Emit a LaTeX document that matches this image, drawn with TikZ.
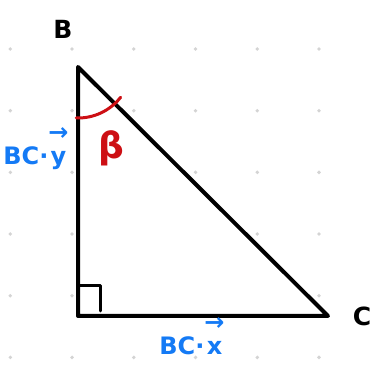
\documentclass[tikz,border=0pt]{standalone}
\usepackage{fontspec}
\usepackage{amsmath}
\setmainfont{DejaVu Sans}
\definecolor{myblue}{RGB}{20,122,245}
\definecolor{myred}{RGB}{205,15,20}
\definecolor{dotcol}{RGB}{212,212,212}
\newcommand{\myvec}[1]{\ensuremath{\mathop{\text{#1}}\limits^{\raisebox{6pt}{\hbox{\bfseries\fontsize{24}{26}\selectfont →}}}}}
\begin{document}
\begin{tikzpicture}[x=1pt,y=-1pt,
  tri/.style={line width=4pt,line join=round,line cap=round},
  lbl/.style={inner sep=0pt,font=\bfseries\fontsize{25}{27}\selectfont},
  bluelbl/.style={inner sep=0pt,text=myblue,font=\bfseries\fontsize{24}{26}\selectfont},
  redlbl/.style={inner sep=0pt,text=myred,font=\bfseries\fontsize{36}{38}\selectfont},
  marker/.style={line width=3pt,line cap=round,line join=round}]
\useasboundingbox (0,0) rectangle (373,366);
\foreach \i in {0,...,5}
  \foreach \j in {0,...,5}
    \fill[dotcol] (10.3+61.74*\i,49+61.68*\j) circle (1.9);
\coordinate (B) at (78,67);
\coordinate (A) at (78,316);
\coordinate (C) at (328,316);
\fill[white] (B) -- (A) -- (C) -- cycle;
\draw[tri] (B) -- (A) -- (C) -- cycle;
\coordinate (m1) at (78,286);
\coordinate (m2) at (100,286);
\coordinate (m3) at (100,311);
\draw[marker] (m1) -- (m2) -- (m3);
\draw[marker,myred] ([shift={(92:51)}]B) arc[start angle=92,end angle=38,radius=54];
\node[lbl] (lB) at (63,29) {B};
\node[lbl] (lC) at (362,316) {C};
\node[bluelbl,anchor=base] (ly) at (36,165) {BC·\myvec{y}};
\node[bluelbl,anchor=base] (lx) at (192,355) {BC·\myvec{x}};
\node[redlbl] (beta) at (111,148) {β};
\end{tikzpicture}
\end{document}
